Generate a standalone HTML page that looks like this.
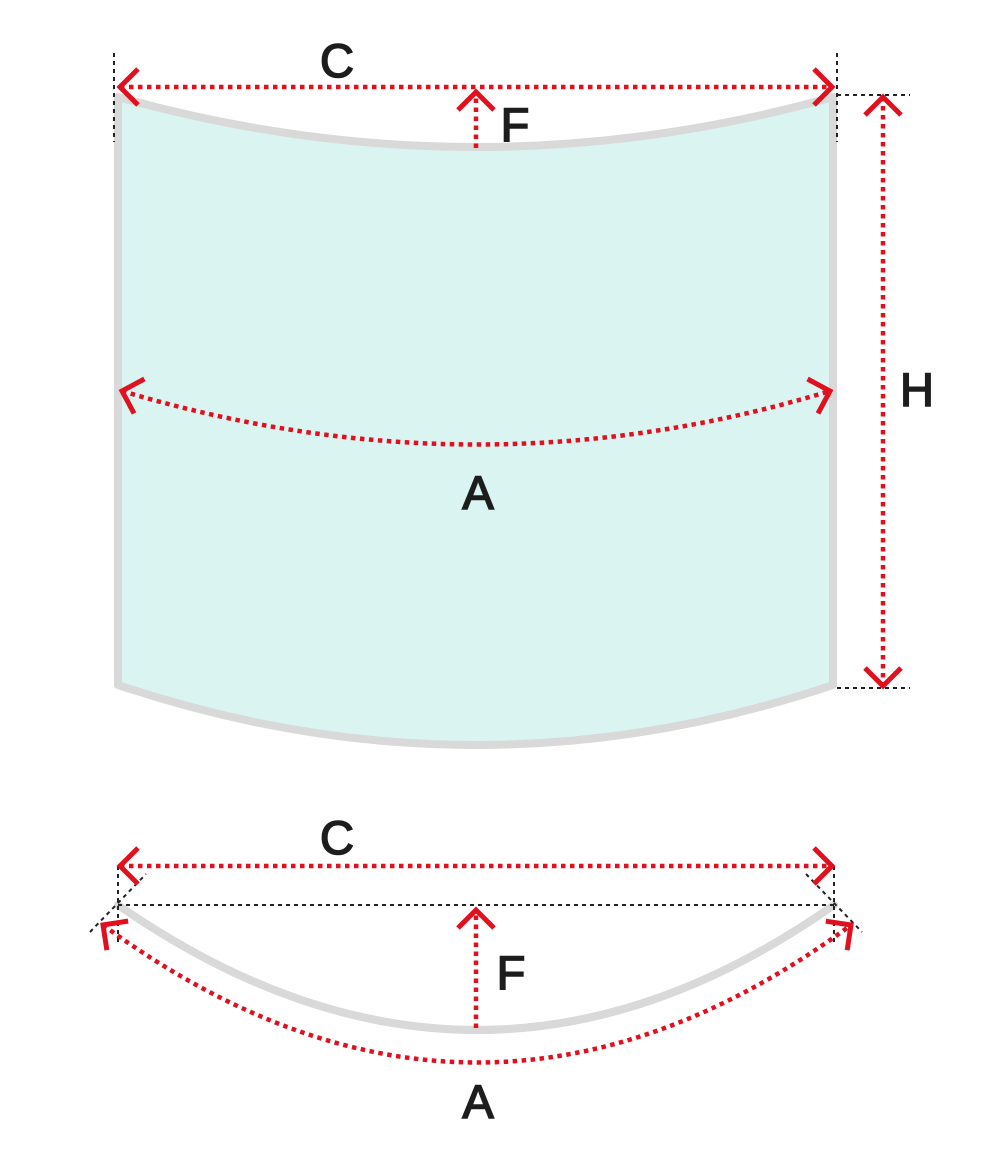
<!DOCTYPE html>
<html><head><meta charset="utf-8"><style>
html,body{margin:0;padding:0;background:#fff;}
svg{display:block;}
text{font-family:"Liberation Sans",sans-serif;font-weight:400;font-size:47px;fill:#1d1d1d;stroke:#1d1d1d;stroke-width:1.6;text-anchor:middle;}
</style></head><body>
<svg width="1000" height="1160" viewBox="0 0 1000 1160" xmlns="http://www.w3.org/2000/svg">
<defs>
<marker id="ah" viewBox="-25 -25 50 50" markerWidth="50" markerHeight="50" refX="0" refY="0" orient="auto-start-reverse" markerUnits="userSpaceOnUse" style="overflow:visible">
<path d="M-18,-18 L0,0 L-18,18" fill="none" stroke="#e0101e" stroke-width="5" stroke-dasharray="none"/>
</marker>
</defs>
<g fill="none">
<path d="M118,97 Q476,197 833,97 L833,685 Q476,805 118,685 Z" fill="#daf4f2" stroke="#d9d9d9" stroke-width="8" stroke-linejoin="round"/>
<g stroke="#222" stroke-width="2" stroke-dasharray="4 4">
<line x1="114" y1="53" x2="114" y2="142"/>
<line x1="837" y1="53" x2="837" y2="142"/>
<line x1="837" y1="95" x2="910" y2="95"/>
<line x1="837" y1="688" x2="910" y2="688"/>
</g>
<g stroke="#e0101e" stroke-width="4.5" stroke-dasharray="4.5 4.5">
<line x1="120" y1="87" x2="832" y2="87" marker-start="url(#ah)" marker-end="url(#ah)"/>
<line x1="476" y1="148" x2="476" y2="92" marker-end="url(#ah)"/>
<line x1="883" y1="97" x2="883" y2="686" marker-start="url(#ah)" marker-end="url(#ah)"/>
<path d="M122,391 Q478,498 830,391" marker-start="url(#ah)" marker-end="url(#ah)"/>
</g>
<path d="M118,905 Q478,1155 834,905" stroke="#d9d9d9" stroke-width="8" stroke-linecap="round"/>
<g stroke="#222" stroke-width="2" stroke-dasharray="4 4">
<line x1="118" y1="905" x2="835" y2="905"/>
<line x1="118" y1="866" x2="118" y2="942"/>
<line x1="834" y1="866" x2="834" y2="942"/>
<line x1="90" y1="932" x2="146" y2="874"/>
<line x1="806" y1="874" x2="862" y2="932"/>
</g>
<g stroke="#e0101e" stroke-width="4.5" stroke-dasharray="4.5 4.5">
<line x1="120" y1="866" x2="832" y2="866" marker-start="url(#ah)" marker-end="url(#ah)"/>
<line x1="476" y1="1028" x2="476" y2="910" marker-end="url(#ah)"/>
<path d="M103,925 Q478,1200 851,925" marker-start="url(#ah)" marker-end="url(#ah)"/>
</g>
</g>
<text x="337" y="77">C</text>
<text x="515" y="141">F</text>
<text x="917" y="406">H</text>
<text x="478" y="509">A</text>
<text x="337" y="854">C</text>
<text x="511" y="989">F</text>
<text x="478" y="1118">A</text>
</svg>
</body></html>
